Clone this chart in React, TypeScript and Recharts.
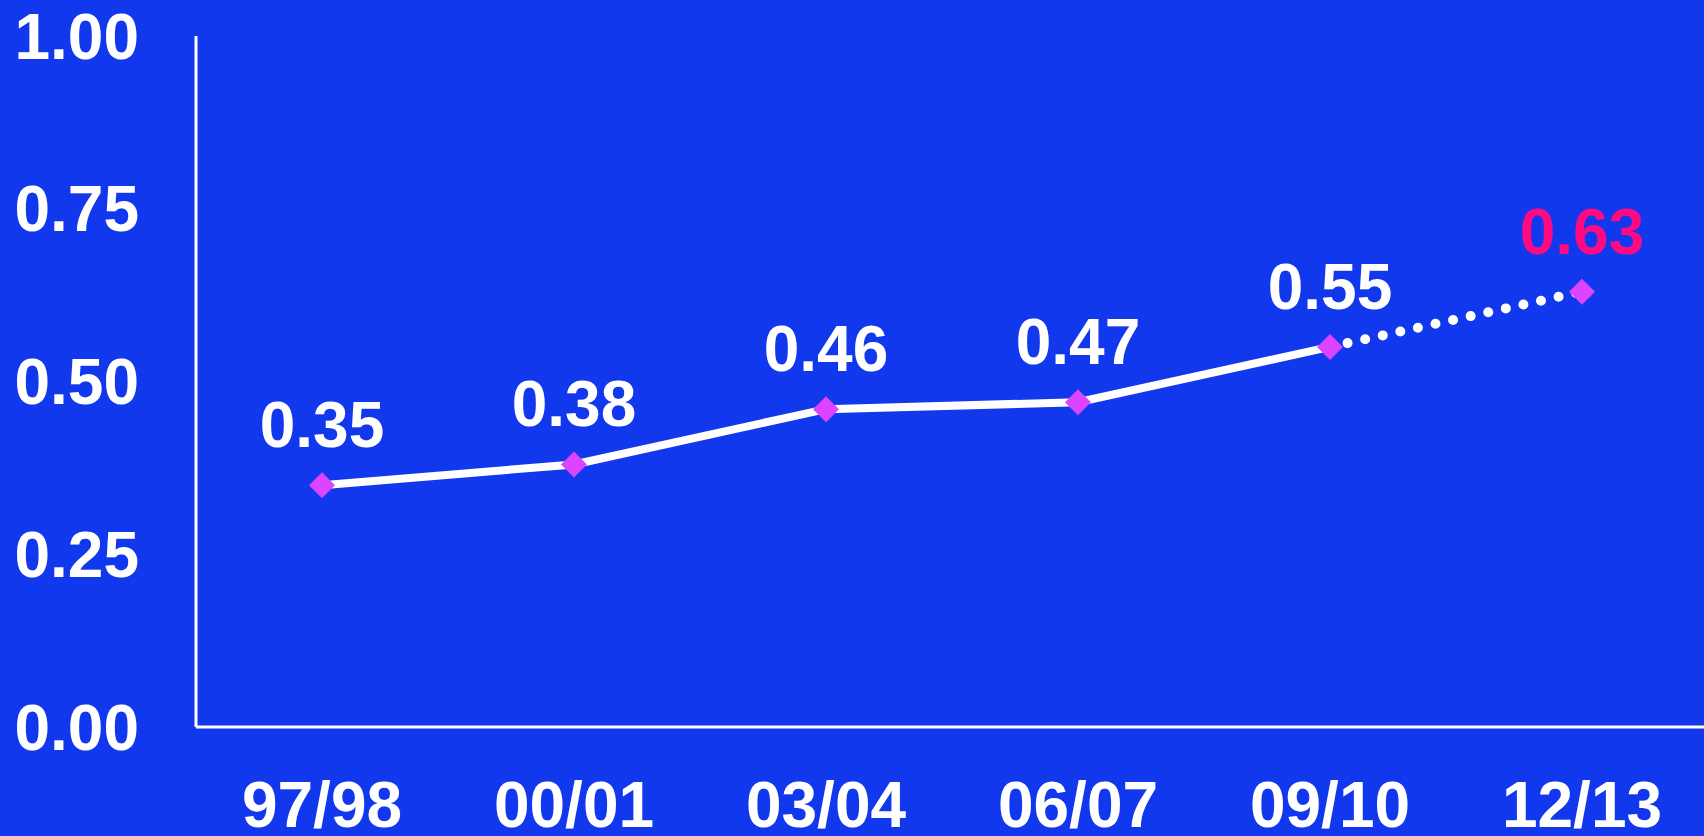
import { LineChart, Line, XAxis, YAxis } from "recharts"

const years = ["97/98", "00/01", "03/04", "06/07", "09/10", "12/13"]
const actual = [0.35, 0.38, 0.46, 0.47, 0.55, null]
const projected = [null, null, null, null, 0.55, 0.63]
const yTicks = [0, 0.25, 0.5, 0.75, 1]

const data = years.map((year, i) => ({
  year,
  actual: actual[i],
  projected: projected[i],
}))

const BG = "#1238EE"
const MARKER = "#DD44FF"
const PINK = "#FF0A80"
const FONT = "'Liberation Sans', Arial, sans-serif"

function Diamond(props: any) {
  const { cx, cy, index, value } = props
  if (value == null || cx == null || cy == null) return <g key={`d-${index}`} />
  const r = 13
  return (
    <path
      key={`d-${index}`}
      d={`M${cx},${cy - r} L${cx + r},${cy} L${cx},${cy + r} L${cx - r},${cy} Z`}
      fill={MARKER}
    />
  )
}

function makeLabel(color: string, only?: number) {
  return (props: any) => {
    const { x, y, value, index } = props
    if (value == null) return null
    if (only != null && index !== only) return null
    return (
      <text
        key={`l-${index}`}
        x={x}
        y={y - 38}
        textAnchor="middle"
        fill={color}
        fontSize={64}
        fontWeight="bold"
        fontFamily={FONT}
      >
        {Number(value).toFixed(2)}
      </text>
    )
  }
}

export default function App() {
  const tickStyle = { fill: "#ffffff", fontSize: 64, fontWeight: "bold", fontFamily: FONT }
  return (
    <div style={{ position: "fixed", top: 0, left: 0, width: 1704, height: 836, background: BG, overflow: "hidden" }}>
      <LineChart width={1708} height={836} data={data} margin={{ top: 36, right: 0, bottom: 0, left: 0 }}>
        <XAxis
          dataKey="year"
          scale="band"
          height={109}
          axisLine={{ stroke: "#ffffff", strokeWidth: 3 }}
          tickLine={false}
          tickSize={0}
          tickMargin={55}
          tick={tickStyle}
          interval={0}
        />
        <YAxis
          width={196}
          domain={[0, 1]}
          ticks={yTicks}
          tickFormatter={(v: number) => v.toFixed(2)}
          axisLine={{ stroke: "#ffffff", strokeWidth: 3 }}
          tickLine={false}
          tickSize={0}
          tickMargin={57}
          tick={tickStyle}
          interval={0}
        />
        <Line
          dataKey="projected"
          type="linear"
          stroke="#ffffff"
          strokeWidth={10}
          strokeDasharray="0 18"
          strokeLinecap="round"
          dot={(p: any) => (p.index === 5 ? <Diamond {...p} /> : <g key={`e-${p.index}`} />)}
          activeDot={false}
          label={makeLabel(PINK, 5)}
          isAnimationActive={false}
        />
        <Line
          dataKey="actual"
          type="linear"
          stroke="#ffffff"
          strokeWidth={8}
          dot={(p: any) => <Diamond {...p} />}
          activeDot={false}
          label={makeLabel("#ffffff")}
          isAnimationActive={false}
        />
      </LineChart>
    </div>
  )
}
